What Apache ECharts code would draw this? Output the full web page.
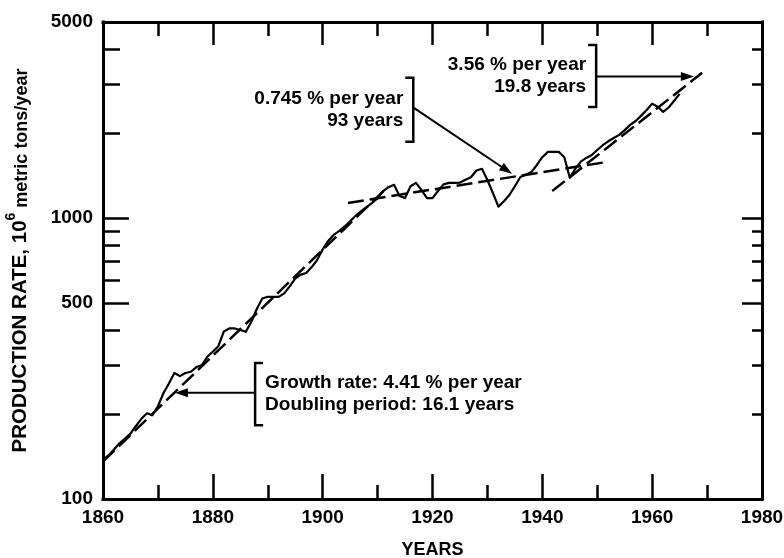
<!DOCTYPE html>
<html>
<head>
<meta charset="utf-8">
<script src="https://cdn.jsdelivr.net/npm/echarts@6/dist/echarts.min.js"></script>
<style>
  html, body { margin: 0; padding: 0; background: #fff; }
  #chart { width: 784px; height: 558px; }
</style>
</head>
<body>
<div id="chart"></div>
<script>
// Annual production, 10^6 metric tons per year
const years = [
  1860, 1861, 1862, 1863, 1864, 1865, 1866, 1867, 1868, 1869,
  1870, 1871, 1872, 1873, 1874, 1875, 1876, 1877, 1878, 1879,
  1880, 1881, 1882, 1883, 1884, 1885, 1886, 1887, 1888, 1889,
  1890, 1891, 1892, 1893, 1894, 1895, 1896, 1897, 1898, 1899,
  1900, 1901, 1902, 1903, 1904, 1905, 1906, 1907, 1908, 1909,
  1910, 1911, 1912, 1913, 1914, 1915, 1916, 1917, 1918, 1919,
  1920, 1921, 1922, 1923, 1924, 1925, 1926, 1927, 1928, 1929,
  1930, 1931, 1932, 1933, 1934, 1935, 1936, 1937, 1938, 1939,
  1940, 1941, 1942, 1943, 1944, 1945, 1946, 1947, 1948, 1949,
  1950, 1951, 1952, 1953, 1954, 1955, 1956, 1957, 1958, 1959,
  1960, 1961, 1962, 1963, 1964, 1965
];
const production = [
  138, 143, 150, 158, 164, 171, 182, 193, 202, 199,
  214, 238, 258, 281, 274, 281, 284, 295, 300, 321,
  335, 350, 395, 405, 405, 400, 394, 427, 475, 518,
  525, 525, 525, 540, 572, 610, 630, 638, 670, 710,
  775, 830, 872, 900, 935, 975, 1020, 1060, 1095, 1134,
  1180, 1250, 1290, 1315, 1200, 1180, 1300, 1336, 1260, 1180,
  1180, 1250, 1320, 1336, 1336, 1340, 1370, 1400, 1480, 1500,
  1368, 1230, 1100, 1150, 1210, 1300, 1403, 1430, 1460, 1548,
  1650, 1723, 1723, 1723, 1650, 1393, 1500, 1590, 1640, 1680,
  1750, 1820, 1880, 1930, 1981, 2060, 2150, 2220, 2320, 2430,
  2560, 2494, 2393, 2480, 2620, 2774
];

// Fitted exponential trends (end points)
const trendEarlyYears = [1860, 1912];
const trendEarlyValues = [136, 1300];
const trendMiddleYears = [1904.6, 1951.8];
const trendMiddleValues = [1134, 1587];
const trendLateYears = [1941.8, 1969.1];
const trendLateValues = [1250, 3296];

// Axis ticks and labels
const xLabelValues = [1860, 1880, 1900, 1920, 1940, 1960, 1980];
const yLabelValues = [100, 500, 1000, 5000];
const yMinorTicks = [200, 300, 400, 600, 700, 800, 900, 2000, 3000, 4000];
const yMajorTicks = [500, 1000];

// Callouts: bracket [year, low, high], arrow [from, to] in data units
const callouts = [
  { lines: ['0.745 % per year', '93 years'], side: 'left',
    bracket: [1916.5, 1871, 3163], arrow: [[1916.6, 2472], [1934.5, 1439]] },
  { lines: ['3.56 % per year', '19.8 years'], side: 'left',
    bracket: [1949.8, 2492, 4140], arrow: [[1949.8, 3200], [1967.6, 3200]] },
  { lines: ['Growth rate: 4.41 % per year', 'Doubling period: 16.1 years'], side: 'right',
    bracket: [1887.7, 183, 305], arrow: [[1887.7, 239], [1873.1, 239]] }
];

const FONT = "'Liberation Sans', Arial, Helvetica, sans-serif";
const INK = '#000';
const lg = v => Math.log10(v);
const pairs = (xs, ys) => xs.map((x, i) => [x, ys[i]]);

function xAxisLayer(position, step, len, opts) {
  opts = opts || {};
  return {
    type: 'value', min: 1860, max: 1980, interval: step, position: position,
    axisLine: { show: !!opts.line, onZero: false, lineStyle: { color: INK, width: 3, cap: 'square' } },
    axisTick: { show: true, inside: true, length: len, lineStyle: { color: INK, width: 2.5 } },
    axisLabel: opts.labels ? {
      show: true, customValues: xLabelValues, margin: 9,
      formatter: v => String(Math.round(v)),
      color: INK, fontFamily: FONT, fontWeight: 'bold', fontSize: 19
    } : { show: false },
    splitLine: { show: false },
    name: opts.name || '', nameLocation: 'middle', nameGap: 42,
    nameTextStyle: { color: INK, fontFamily: FONT, fontWeight: 'bold', fontSize: 18 }
  };
}

function yAxisLayer(position, ticks, len, opts) {
  opts = opts || {};
  return {
    type: 'value', min: lg(100), max: lg(5000), position: position,
    axisLine: { show: !!opts.line, onZero: false, lineStyle: { color: INK, width: 3, cap: 'square' } },
    axisTick: { show: true, inside: true, length: len, customValues: ticks.map(lg),
                lineStyle: { color: INK, width: 2.5 } },
    axisLabel: opts.labels ? {
      show: true, customValues: yLabelValues.map(lg), margin: 10,
      formatter: v => String(Math.round(Math.pow(10, v))),
      color: INK, fontFamily: FONT, fontWeight: 'bold', fontSize: 19
    } : { show: false },
    splitLine: { show: false },
    name: opts.name || '', nameLocation: 'middle', nameGap: 72, nameRotate: 90,
    nameTextStyle: opts.nameStyle || {}
  };
}

function renderCallout(params, api) {
  const c = callouts[params.dataIndex];
  const bx = api.coord([c.bracket[0], c.bracket[1]]);
  const top = api.coord([c.bracket[0], c.bracket[2]])[1];
  const bottom = bx[1];
  const x = bx[0];
  const dir = c.side === 'left' ? -1 : 1;
  const stub = 8 * dir;
  const from = api.coord(c.arrow[0]);
  const to = api.coord(c.arrow[1]);
  const ang = Math.atan2(to[1] - from[1], to[0] - from[0]);
  const headLen = 13, headHalf = 4.5;
  const baseX = to[0] - headLen * Math.cos(ang);
  const baseY = to[1] - headLen * Math.sin(ang);
  const nx = -Math.sin(ang), ny = Math.cos(ang);
  return {
    type: 'group',
    children: [
      { type: 'polyline',
        shape: { points: [[x + stub, top], [x, top], [x, bottom], [x + stub, bottom]] },
        style: { stroke: INK, lineWidth: 2.5, fill: null } },
      { type: 'line',
        shape: { x1: from[0], y1: from[1], x2: baseX + 2 * Math.cos(ang), y2: baseY + 2 * Math.sin(ang) },
        style: { stroke: INK, lineWidth: 2 } },
      { type: 'polygon',
        shape: { points: [[to[0], to[1]],
                          [baseX + nx * headHalf, baseY + ny * headHalf],
                          [baseX - nx * headHalf, baseY - ny * headHalf]] },
        style: { fill: INK } },
      { type: 'text',
        style: {
          text: c.lines.join('\n'),
          x: x + 10 * dir, y: (top + bottom) / 2,
          align: c.side === 'left' ? 'right' : 'left', verticalAlign: 'middle',
          lineHeight: 22, fill: INK,
          fontFamily: FONT, fontWeight: 'bold', fontSize: 19
        } }
    ]
  };
}

const trendStyle = { color: INK, width: 2.5, type: [16, 6] };

const option = {
  animation: false,
  backgroundColor: '#fff',
  grid: { left: 103, right: 22, top: 22, bottom: 59, containLabel: false, outerBoundsMode: 'none' },
  xAxis: [
    xAxisLayer('bottom', 10, 14, { line: true, labels: true, name: 'YEARS' }),
    xAxisLayer('bottom', 20, 25),
    xAxisLayer('top', 10, 14, { line: true }),
    xAxisLayer('top', 20, 23)
  ],
  yAxis: [
    {
      type: 'log', logBase: 10, min: 100, max: 5000, position: 'left',
      axisLine: { show: true, onZero: false, lineStyle: { color: INK, width: 3, cap: 'square' } },
      axisTick: { show: false }, axisLabel: { show: false }, splitLine: { show: false }
    },
    yAxisLayer('left', yMinorTicks, 17, {
      labels: true,
      name: '{a|PRODUCTION RATE, 10}{s|6}{b| metric tons/year}',
      nameStyle: {
        color: INK,
        rich: {
          a: { fontFamily: FONT, fontWeight: 'bold', fontSize: 20.5, lineHeight: 27, verticalAlign: 'bottom' },
          s: { fontFamily: FONT, fontWeight: 'bold', fontSize: 14, lineHeight: 27, verticalAlign: 'top' },
          b: { fontFamily: FONT, fontWeight: 'bold', fontSize: 18, lineHeight: 27, verticalAlign: 'bottom' }
        }
      }
    }),
    yAxisLayer('left', yMajorTicks, 26),
    yAxisLayer('right', yMinorTicks, 10, { line: true }),
    yAxisLayer('right', yMajorTicks, 20)
  ],
  series: [
    {
      name: 'Production', type: 'line', xAxisIndex: 0, yAxisIndex: 0,
      data: pairs(years, production),
      showSymbol: false, smooth: false, z: 3,
      lineStyle: { color: INK, width: 2.2, join: 'round' }
    },
    {
      name: 'Trend 1860-1912', type: 'line', xAxisIndex: 0, yAxisIndex: 0,
      data: pairs(trendEarlyYears, trendEarlyValues),
      showSymbol: false, z: 2, lineStyle: trendStyle
    },
    {
      name: 'Trend 1905-1952', type: 'line', xAxisIndex: 0, yAxisIndex: 0,
      data: pairs(trendMiddleYears, trendMiddleValues),
      showSymbol: false, z: 2, lineStyle: trendStyle
    },
    {
      name: 'Trend 1942-1969', type: 'line', xAxisIndex: 0, yAxisIndex: 0,
      data: pairs(trendLateYears, trendLateValues),
      showSymbol: false, z: 2, lineStyle: trendStyle
    },
    {
      name: 'Callouts', type: 'custom', xAxisIndex: 0, yAxisIndex: 0,
      data: callouts.map(c => c.arrow[1]),
      renderItem: renderCallout, silent: true, z: 4
    }
  ]
};

const chart = echarts.init(document.getElementById('chart'));
chart.setOption(option);
</script>
</body>
</html>
